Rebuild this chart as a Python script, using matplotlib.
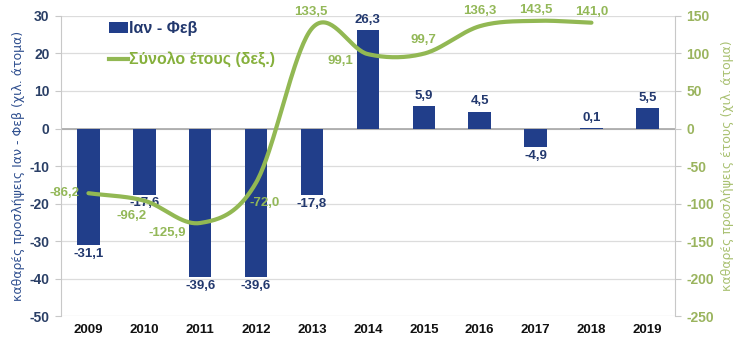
import numpy as np
import matplotlib.pyplot as plt
from matplotlib.lines import Line2D
from matplotlib.patches import Patch

plt.rcParams['font.family'] = ['Liberation Sans', 'DejaVu Sans']
plt.rcParams['axes.unicode_minus'] = False

years = ['2009', '2010', '2011', '2012', '2013', '2014', '2015', '2016', '2017', '2018', '2019']
jan_feb = [-31.1, -17.6, -39.6, -39.6, -17.8, 26.3, 5.9, 4.5, -4.9, 0.1, 5.5]
year_total = [-86.2, -96.2, -125.9, -72.0, 133.5, 99.1, 99.7, 136.3, 143.5, 141.0]

NAVY = '#213e8a'
NAVY_TXT = '#22386e'
GREEN = '#92b853'
GREEN_TXT = '#93b858'


def fmt(v):
    return f"{v:.1f}".replace('.', ',')


def smooth(xs, ys, n=40):
    # catmull-rom, close to excel's smoothed line
    xs = np.asarray(xs, float)
    ys = np.asarray(ys, float)
    px = np.concatenate([[2 * xs[0] - xs[1]], xs, [2 * xs[-1] - xs[-2]]])
    py = np.concatenate([[2 * ys[0] - ys[1]], ys, [2 * ys[-1] - ys[-2]]])
    ox, oy = [], []
    t = np.linspace(0, 1, n)
    for i in range(1, len(px) - 2):
        for arr, out in ((px, ox), (py, oy)):
            p0, p1, p2, p3 = arr[i - 1], arr[i], arr[i + 1], arr[i + 2]
            out.extend(0.5 * (2 * p1 + (-p0 + p2) * t + (2 * p0 - 5 * p1 + 4 * p2 - p3) * t ** 2
                              + (-p0 + 3 * p1 - 3 * p2 + p3) * t ** 3))
    return np.array(ox), np.array(oy)


fig = plt.figure(figsize=(7.47, 3.54), dpi=100)
ax = fig.add_axes([0.081, 0.107, 0.823, 0.848])
ax2 = ax.twinx()

x = np.arange(len(years))
ax.bar(x, jan_feb, width=0.4, color=NAVY, zorder=3)
ax.set_ylim(-50, 30)
ax.set_yticks(range(-50, 31, 10))
ax.set_xlim(-0.5, len(years) - 0.5)
ax.set_xticks(x)
ax.set_xticklabels(years, fontsize=9.5, fontweight='bold', color='#111111')
ax.tick_params(axis='x', length=0, pad=6)
ax.tick_params(axis='y', length=4, color='#c8c8c8', labelsize=10, labelcolor='#2a3f66', pad=4)
for lbl in ax.get_yticklabels():
    lbl.set_fontweight('bold')
ax.grid(axis='y', color='#dcdcdc', linewidth=0.9, zorder=0)
ax.axhline(0, color='#a6a6a6', linewidth=1.2, zorder=2)
for s in ['top', 'bottom']:
    ax.spines[s].set_visible(False)
ax.spines['left'].set_color('#c8c8c8')
ax.spines['right'].set_visible(False)

for xi, v in zip(x, jan_feb):
    if v >= 0:
        ax.annotate(fmt(v), (xi, v), xytext=(0, 3), textcoords='offset points', ha='center', va='bottom',
                    fontsize=9.5, fontweight='bold', color=NAVY_TXT, zorder=5)
    else:
        ax.annotate(fmt(v), (xi, v), xytext=(0, -2), textcoords='offset points', ha='center', va='top',
                    fontsize=9.5, fontweight='bold', color=NAVY_TXT, zorder=5)

sx, sy = smooth(x[:len(year_total)], year_total)
ax2.plot(sx, sy, color=GREEN, linewidth=3, solid_capstyle='round', zorder=4)
ax2.set_ylim(-250, 150)
ax2.set_yticks(range(-250, 151, 50))
ax2.tick_params(axis='y', length=4, color='#c8c8c8', labelsize=10, labelcolor='#9ab45e', pad=4)
for lbl in ax2.get_yticklabels():
    lbl.set_fontweight('bold')
for s in ['top', 'bottom', 'left']:
    ax2.spines[s].set_visible(False)
ax2.spines['right'].set_color('#c8c8c8')

# label offsets (points) for the yearly totals
offs = [(-17, 0), (-9, -11), (-24, -7), (6, -15), (-1, 12), (-20, -5), (0, 10), (0, 11), (0, 8), (0, 8)]
for xi, v, (dx, dy) in zip(x, year_total, offs):
    ax2.annotate(fmt(v), (xi, v), xytext=(dx, dy), textcoords='offset points', ha='center', va='center',
                 fontsize=9.5, fontweight='bold', color=GREEN_TXT, zorder=6)

ax.set_ylabel('καθαρές προσλήψεις Ιαν - Φεβ (χιλ. άτομα)', fontsize=9, color='#2f4f8f', labelpad=3,
              family='DejaVu Sans')
ax2.set_ylabel('καθαρές προσλήψεις έτους (χιλ. άτομα)', fontsize=9, color='#a8c070', rotation=90,
               labelpad=5, family='DejaVu Sans')

handles = [Patch(facecolor=NAVY), Line2D([0], [0], color=GREEN, linewidth=3)]
leg = ax.legend(handles, ['Ιαν - Φεβ', 'Σύνολο έτους (δεξ.)'], loc='upper left', bbox_to_anchor=(0.055, 1.03),
                frameon=False, fontsize=11.5, handlelength=1.2, handletextpad=0.1, labelspacing=1.0)
for t, c in zip(leg.get_texts(), [NAVY_TXT, '#86b03c']):
    t.set_color(c)
    t.set_fontweight('bold')

fig.savefig('out.png', dpi=100)
